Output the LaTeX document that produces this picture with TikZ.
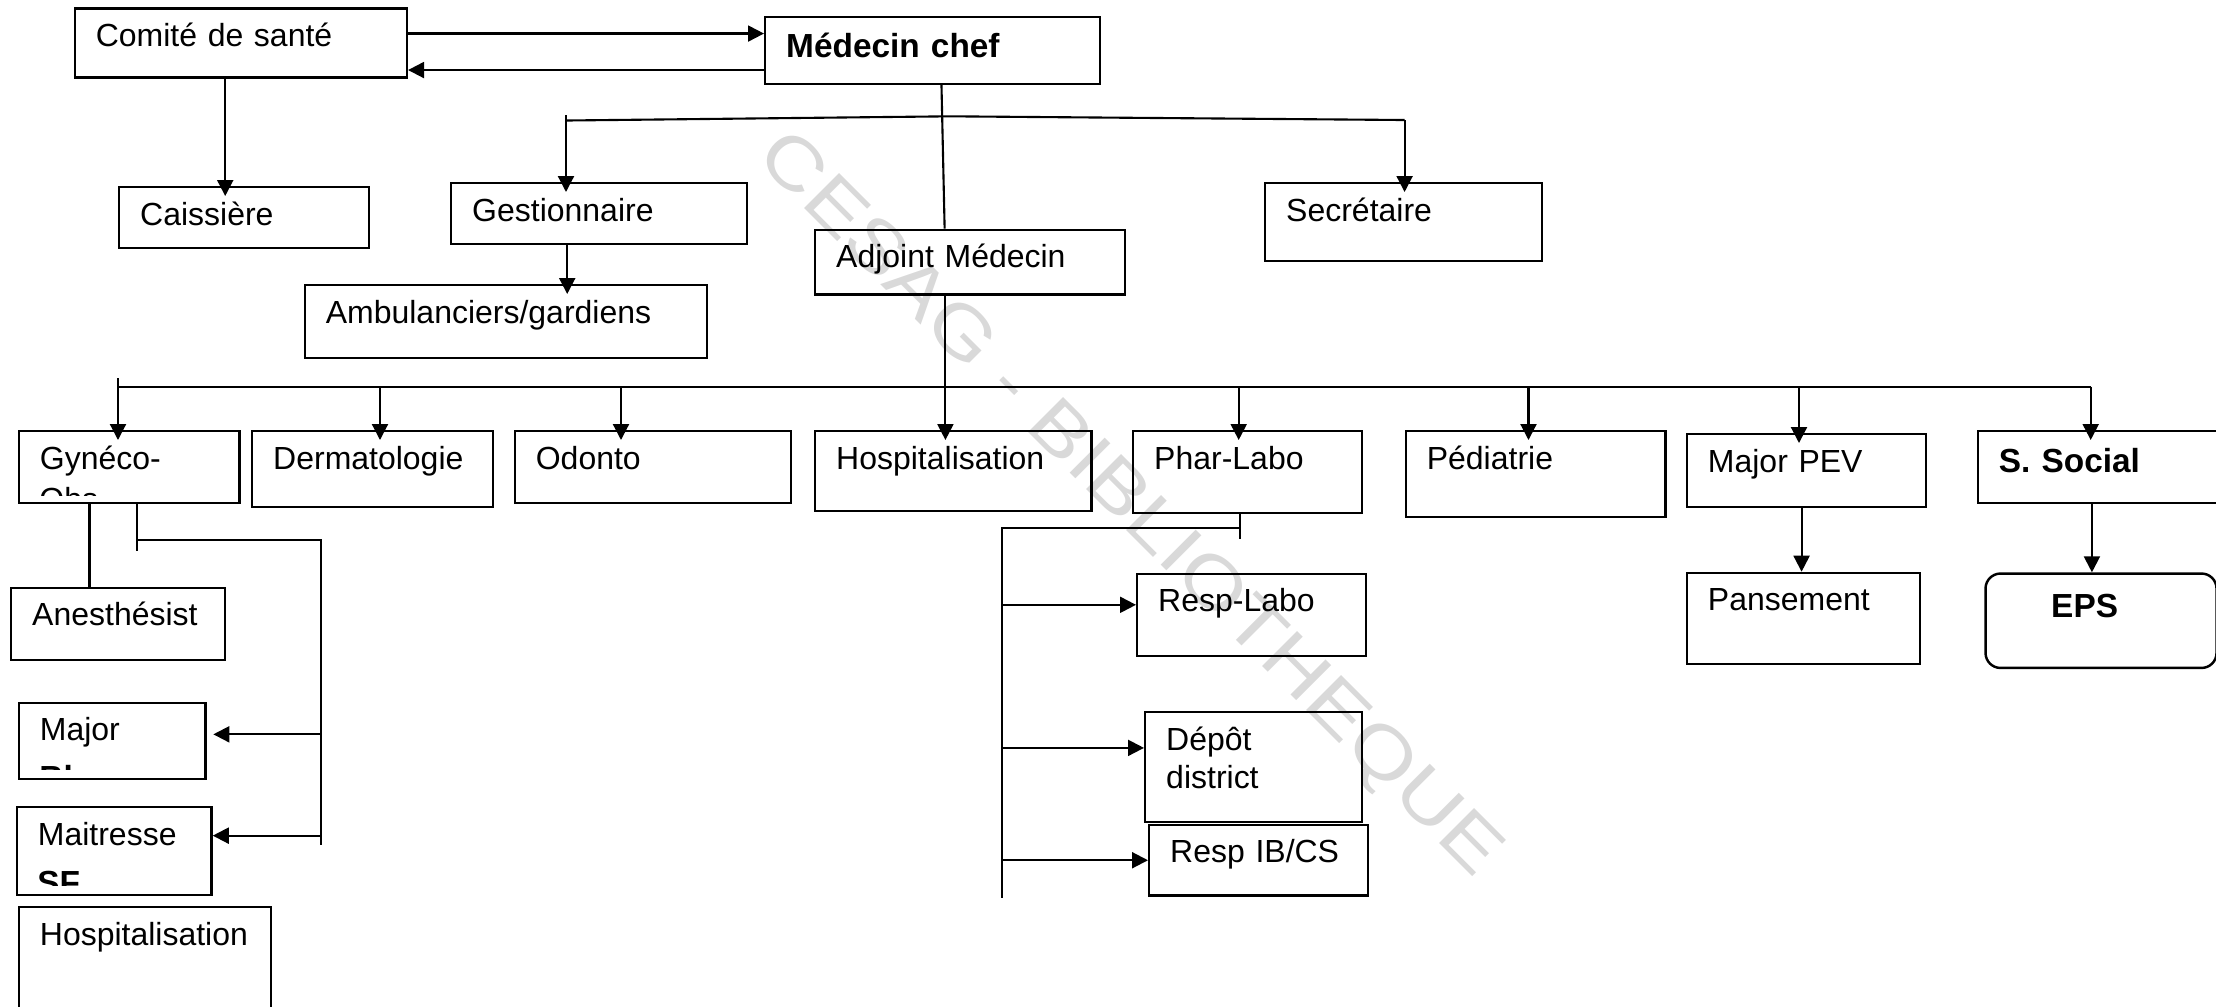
\documentclass[tikz,border=0pt]{standalone}
\usepackage{fontspec}
\setmainfont{Liberation Sans}
\usepackage{tikz}
\usetikzlibrary{arrows.meta,calc}
\newcommand\unitfont{\fontsize{9.1}{10.9}\selectfont}
\newcommand\unitbold{\fontsize{9.5}{11}\selectfont\bfseries}
\hyphenpenalty=10000
\tikzset{
  unit/.style={draw,line width=0.7pt,anchor=north west,align=left,inner xsep=0.21cm,inner ysep=0pt,text height=0.38cm,font=\unitfont},
  head/.style={unit,text height=0.41cm,font=\unitbold},
  sz/.style 2 args={text width=#1cm-0.42cm,text depth=#2cm-0.38cm},
  link/.style={line width=0.6pt},
  side/.style={link,-{Triangle[length=1.6mm,width=1.6mm]}},
  down/.style={side,shorten >=-1mm},
  cut/.style={anchor=base west,inner sep=0pt},
  wmark/.style={rotate=-45,xscale=1.2,inner sep=0pt,text=black!15,font=\fontsize{20.5}{20.5}\selectfont},
}
\begin{document}
\begin{tikzpicture}
  \useasboundingbox (0,0) rectangle (22.16,-10.06);
  \node[wmark] (stamp) at (11.28,-5.06) {CESAG - BIBLIOTHEQUE};

  % direction
  \node[unit,sz={3.32}{0.69}] (comite) at (0.736,-0.073) {Comité de santé};
  \node[head,sz={3.345}{0.64}] (chef) at (7.64,-0.157) {Médecin chef};
  \node[unit,sz={2.50}{0.61}] (caiss) at (1.18,-1.86) {Caissière};
  \node[unit,sz={2.96}{0.61}] (gest) at (4.50,-1.82) {Gestionnaire};
  \node[unit,sz={4.02}{0.73}] (amb) at (3.036,-2.84) {Ambulanciers/gardiens};
  \node[unit,sz={3.10}{0.646}] (adj) at (8.14,-2.287) {Adjoint Médecin};
  \node[unit,sz={2.77}{0.78}] (sec) at (12.64,-1.82) {Secrétaire};

  % services
  \node[unit,sz={2.206}{0.717}] (gyn) at (0.177,-4.30) {Gynéco-};
  \node[unit,sz={2.41}{0.757}] (derm) at (2.51,-4.30) {Dermatologie};
  \node[unit,sz={2.76}{0.717}] (odon) at (5.136,-4.30) {Odonto};
  \node[unit,sz={2.764}{0.80}] (hosp) at (8.14,-4.30) {Hospitalisation};
  \node[unit,sz={2.285}{0.82}] (phar) at (11.32,-4.30) {Phar-Labo};
  \node[unit,sz={2.598}{0.86}] (ped) at (14.046,-4.30) {Pédiatrie};
  \node[unit,sz={2.393}{0.73}] (pev) at (16.857,-4.33) {Major PEV};
  \node[head,sz={2.60}{0.69}] (soc) at (19.767,-4.30) {S. Social};

  % sections
  \node[unit,sz={2.14}{0.72}] (anes) at (0.10,-5.867) {Anesthésist};
  \node[unit,sz={1.866}{0.76}] (major) at (0.177,-7.017) {Major};
  \node[unit,sz={1.946}{0.88}] (maitr) at (0.157,-8.06) {Maitresse};
  \node[unit,sz={2.523}{1.30}] (hospb) at (0.177,-9.06) {Hospitalisation};
  \node[unit,sz={2.29}{0.82}] (rlabo) at (11.36,-5.727) {Resp-Labo};
  \node[unit,sz={2.17}{1.10}] (depot) at (11.44,-7.11) {Dépôt\\district};
  \node[unit,sz={2.19}{0.706}] (ribcs) at (11.48,-8.237) {Resp IB/CS};
  \node[unit,sz={2.328}{0.91}] (pans) at (16.857,-5.717) {Pansement};
  \node[head,sz={2.31}{0.884},text height=0.44cm,rounded corners=0.15cm] (eps) at (19.843,-5.723) {\hspace*{0.447cm}EPS};

  % second lines cut by the boxes
  \begin{scope}
    \clip (gyn.north west) rectangle ([yshift=0.09cm]gyn.south east);
    \node[cut,font=\unitfont] (gynobs) at ([shift={(0.21,-0.80)}]gyn.north west) {Obs};
  \end{scope}
  \begin{scope}
    \clip (major.north west) rectangle ([yshift=0.107cm]major.south east);
    \node[cut,font=\unitbold] (majbloc) at ([shift={(0.21,-0.88)}]major.north west) {Bloc};
  \end{scope}
  \begin{scope}
    \clip (maitr.north west) rectangle ([yshift=0.107cm]maitr.south east);
    \node[cut,font=\unitbold] (maitsf) at ([shift={(0.21,-0.88)}]maitr.north west) {SF};
  \end{scope}

  % links at the top
  \draw[side] ([yshift=0.095cm]comite.east) -- ([yshift=0.095cm]comite.east -| chef.west);
  \draw[side] ([yshift=-0.196cm]chef.west) -- ([yshift=-0.196cm]chef.west -| comite.east);
  \draw[down] ([xshift=-0.156cm]comite.south) -- ([xshift=-0.156cm]comite.south |- caiss.north);
  \draw[down] ([xshift=-0.32cm]gest.south) -- ([xshift=-0.32cm]gest.south |- amb.north);
  \draw[link] ([xshift=0.09cm]chef.south) -- ([xshift=-0.256cm]adj.north);
  \draw[down] ([xshift=-0.248cm]adj.south) -- ([xshift=-0.248cm]adj.south |- hosp.north);

  \coordinate (tbtop) at (5.66,-1.15);
  \coordinate (tbw) at (5.66,-1.205);
  \coordinate (tbmid) at (9.50,-1.163);
  \coordinate (tbe) at (14.046,-1.20);
  \draw[down] (tbtop) -- (tbtop |- gest.north);
  \draw[link] (tbw) -- (tbmid) -- (tbe);
  \draw[down] (tbe) -- (tbe |- sec.north);

  % services bus
  \coordinate (lbtop) at (1.18,-3.78);
  \coordinate (lbw) at (1.18,-3.867);
  \coordinate (lbe) at (20.907,-3.867);
  \draw[link] (lbw) -- (lbe);
  \draw[down] (lbtop) -- (lbtop |- gyn.north);
  \foreach \n/\x in {derm/3.80,odon/6.21,phar/12.387,ped/15.285,pev/17.99,soc/20.907}
    \draw[down] (\x,-3.867) -- (\x,-3.867 |- \n.north);

  % under Gyneco
  \draw[link] ([xshift=-0.397cm]gyn.south) -- ([xshift=-0.397cm]gyn.south |- anes.north);
  \coordinate (gk) at (1.36,-5.403);
  \coordinate (gr) at (3.207,-5.403);
  \draw[link] ([xshift=0.08cm]gyn.south) -- ++(0,-0.467);
  \draw[link] (gk) -- (gr) -- ++(0,-3.047);
  \draw[side,shorten >=0.066cm] (gr |- major.4) -- (major.4);
  \draw[side] (gr |- maitr.9) -- (maitr.9);

  % under Phar-Labo
  \coordinate (pr) at (12.387,-5.283);
  \coordinate (pk) at (10.022,-5.283);
  \draw[link] ([xshift=-0.075cm]phar.south) -- ++(0,-0.247);
  \draw[link] (pr) -- (pk) -- ++(0,-3.697);
  \draw[side] (pk |- rlabo.175) -- (rlabo.175);
  \draw[side] (pk |- depot.170) -- (depot.170);
  \draw[side] (pk |- ribcs.west) -- (ribcs.west);

  % right side
  \draw[side] ([xshift=-0.05cm]pev.south) -- ([xshift=-0.05cm]pev.south |- pans.north);
  \draw[side] ([xshift=-0.16cm]soc.south) -- ([xshift=-0.16cm]soc.south |- eps.north);
\end{tikzpicture}
\end{document}
